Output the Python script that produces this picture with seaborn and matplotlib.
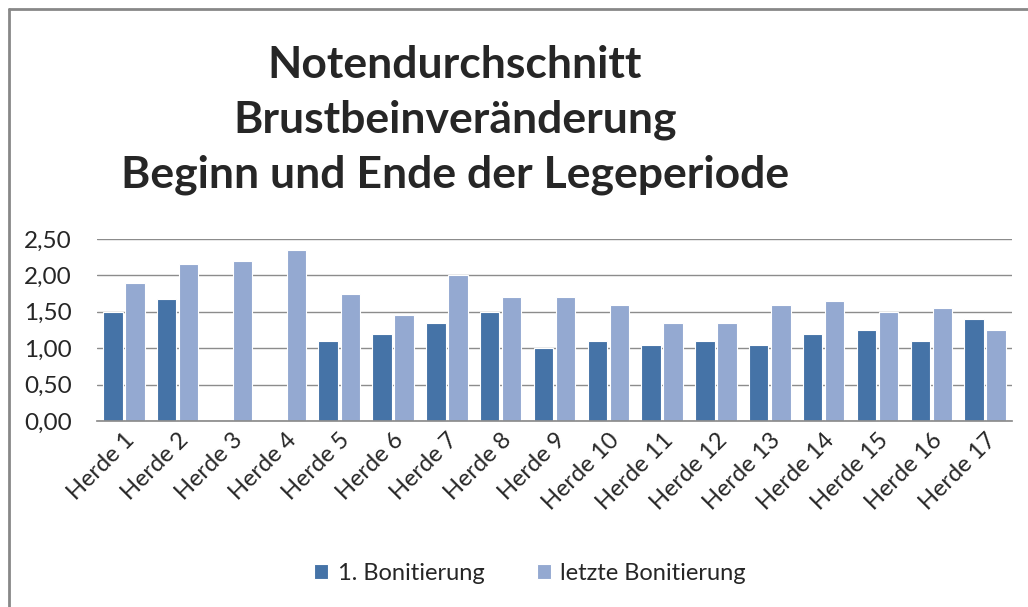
import numpy as np
import pandas as pd
import matplotlib.pyplot as plt
import seaborn as sns
from matplotlib.lines import Line2D

# Data
herden = [f"Herde {i}" for i in range(1, 18)]
erste = [1.50, 1.68, np.nan, np.nan, 1.10, 1.20, 1.35, 1.50, 1.00,
         1.10, 1.05, 1.10, 1.05, 1.20, 1.25, 1.10, 1.40]
letzte = [1.90, 2.15, 2.20, 2.35, 1.75, 1.45, 2.00, 1.70, 1.70,
          1.60, 1.35, 1.35, 1.60, 1.65, 1.50, 1.55, 1.25]
serien = ["1. Bonitierung", "letzte Bonitierung"]
yticks = [0.0, 0.5, 1.0, 1.5, 2.0, 2.5]

df = pd.DataFrame({
    "Herde": herden * 2,
    "Wert": erste + letzte,
    "Serie": [serien[0]] * len(herden) + [serien[1]] * len(herden),
})

sns.set_theme(style="white")
plt.rcParams["font.family"] = ["Lato", "DejaVu Sans"]

fig = plt.figure(figsize=(10.28, 6.07), dpi=100)
ax = fig.add_axes([97 / 1028, 1 - 421 / 607, (1012 - 97) / 1028, (421 - 239) / 607])

sns.barplot(
    data=df, x="Herde", y="Wert", hue="Serie",
    palette=["#4573A7", "#94A9D1"], saturation=1, width=0.82, gap=0.12,
    edgecolor="white", linewidth=0.8, ax=ax,
)

ax.set_ylim(0, 2.5)
ax.set_xlim(-0.5, len(herden) - 0.5)
ax.set_yticks(yticks)
ax.set_yticklabels([f"{v:.2f}".replace(".", ",") for v in yticks], fontsize=17.5)
ax.yaxis.grid(True, color="#8c8c8c", linewidth=1)
ax.set_axisbelow(True)
for s in ["top", "right", "left"]:
    ax.spines[s].set_visible(False)
ax.spines["bottom"].set_color("#8c8c8c")
ax.tick_params(axis="y", length=0, pad=18)
ax.tick_params(axis="x", length=0, pad=6)
ax.set_xticks(range(len(herden)))
ax.set_xticklabels(herden, rotation=45, ha="right", rotation_mode="anchor", fontsize=17)
ax.set_xlabel("")
ax.set_ylabel("")

ax.legend(loc="center", bbox_to_anchor=(530 / 1028, 1 - 573 / 607),
          bbox_transform=fig.transFigure, ncol=2, frameon=False, fontsize=17,
          handlelength=0.6, handleheight=0.6, handletextpad=0.4, columnspacing=2.2)

fig.text(455 / 1028, 1 - 120 / 607,
         "Notendurchschnitt\nBrustbeinveränderung\nBeginn und Ende der Legeperiode",
         ha="center", va="center", fontsize=32, fontweight="bold", linespacing=1.45)

# outer chart border (top and left visible)
fig.add_artist(Line2D([8.5 / 1028, 1.1], [1 - 8.5 / 607] * 2, transform=fig.transFigure,
                      color="#888888", linewidth=2))
fig.add_artist(Line2D([8.5 / 1028] * 2, [-0.1, 1 - 8.5 / 607], transform=fig.transFigure,
                      color="#888888", linewidth=2))

fig.savefig("out.png", dpi=100)
